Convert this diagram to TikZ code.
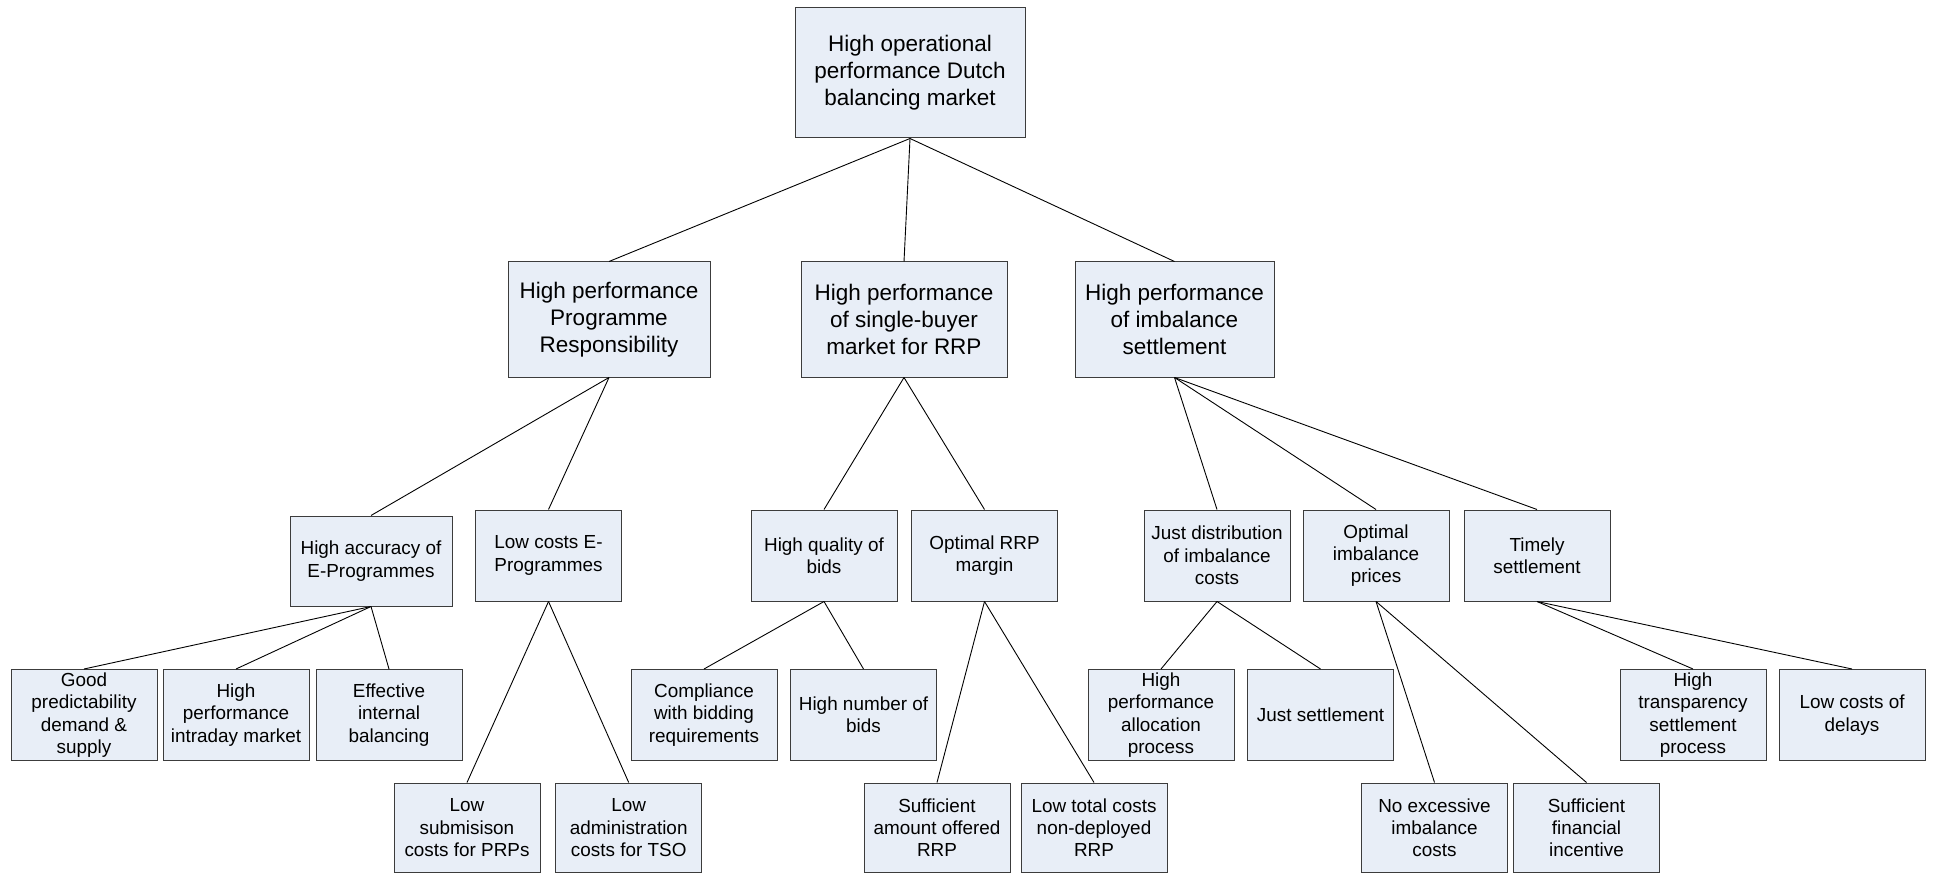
\documentclass[tikz,border=0pt]{standalone}
\usepackage{fontspec}
\setmainfont{Liberation Sans}
\definecolor{boxfill}{RGB}{232,238,247}
\definecolor{boxline}{RGB}{60,60,60}
\begin{document}
\begin{tikzpicture}[x=1pt,y=-1pt,
  box/.style={draw=boxline, fill=boxfill, line width=1pt, inner sep=0pt, align=center},
  big/.style={box, font=\fontsize{22.5}{27}\selectfont, minimum height=115pt},
  small/.style={box, font=\fontsize{18.9}{22.3}\selectfont, minimum width=146pt, minimum height=91pt},
  link/.style={draw=black, line width=0.9pt}]
\useasboundingbox (0,0) rectangle (1937,874);

% top goal
\node[big, minimum width=230pt, minimum height=130pt] (root) at (910,73)
  {High operational\\performance Dutch\\balancing market};

% first level
\node[big, minimum width=202pt] (pr) at (609,319.5) {High performance\\Programme\\Responsibility};
\node[big, minimum width=206pt] (sb) at (904,319.5) {High performance\\of single-buyer\\market for RRP};
\node[big, minimum width=199pt] (is) at (1174.5,319.5) {High performance\\of imbalance\\settlement};

% second level
\node[small, minimum width=162pt, minimum height=90pt] (ha) at (371,561) {High accuracy of\\E-Programmes};
\node[small] (lc) at (548.5,555.5) {Low costs E-\\Programmes};
\node[small] (hq) at (824,555.5) {High quality of\\bids};
\node[small] (or) at (984.5,555.5) {Optimal RRP\\margin};
\node[small] (jd) at (1217,555.5) {Just distribution\\of imbalance\\costs};
\node[small] (oi) at (1376,555.5) {Optimal\\imbalance\\prices};
\node[small] (ts) at (1537,555.5) {Timely\\settlement};

% third level
\node[small] (gp) at (84,715) {Good\\predictability\\demand \&\\supply};
\node[small] (hp) at (236,715) {High\\performance\\intraday market};
\node[small] (ei) at (389,715) {Effective\\internal\\balancing};
\node[small] (cb) at (704,715) {Compliance\\with bidding\\requirements};
\node[small] (hn) at (863.5,715) {High number of\\bids};
\node[small] (hpa) at (1161,715) {High\\performance\\allocation\\process};
\node[small] (js) at (1320.5,715) {Just settlement};
\node[small] (ht) at (1693,715) {High\\transparency\\settlement\\process};
\node[small] (lcd) at (1852,715) {Low costs of\\delays};

% fourth level
\node[small, minimum height=89.5pt] (ls) at (467,827.75) {Low\\submisison\\costs for PRPs};
\node[small, minimum height=89.5pt] (la) at (628.7,827.75) {Low\\administration\\costs for TSO};
\node[small, minimum height=89.5pt] (sa) at (937,827.75) {Sufficient\\amount offered\\RRP};
\node[small, minimum height=89.5pt] (lt) at (1094,827.75) {Low total costs\\non-deployed\\RRP};
\node[small, minimum height=89.5pt] (ne) at (1434.5,827.75) {No excessive\\imbalance\\costs};
\node[small, minimum height=89.5pt] (sf) at (1586.5,827.75) {Sufficient\\financial\\incentive};

% connectors
\foreach \p/\c in {root/pr, root/sb, root/is,
                   pr/ha, pr/lc, sb/hq, sb/or, is/jd, is/oi, is/ts,
                   ha/gp, ha/hp, ha/ei, lc/ls, lc/la,
                   hq/cb, hq/hn, or/sa, or/lt,
                   jd/hpa, jd/js, oi/ne, oi/sf, ts/ht, ts/lcd}
  \draw[link] (\p.south) -- (\c.north);
\end{tikzpicture}
\end{document}
